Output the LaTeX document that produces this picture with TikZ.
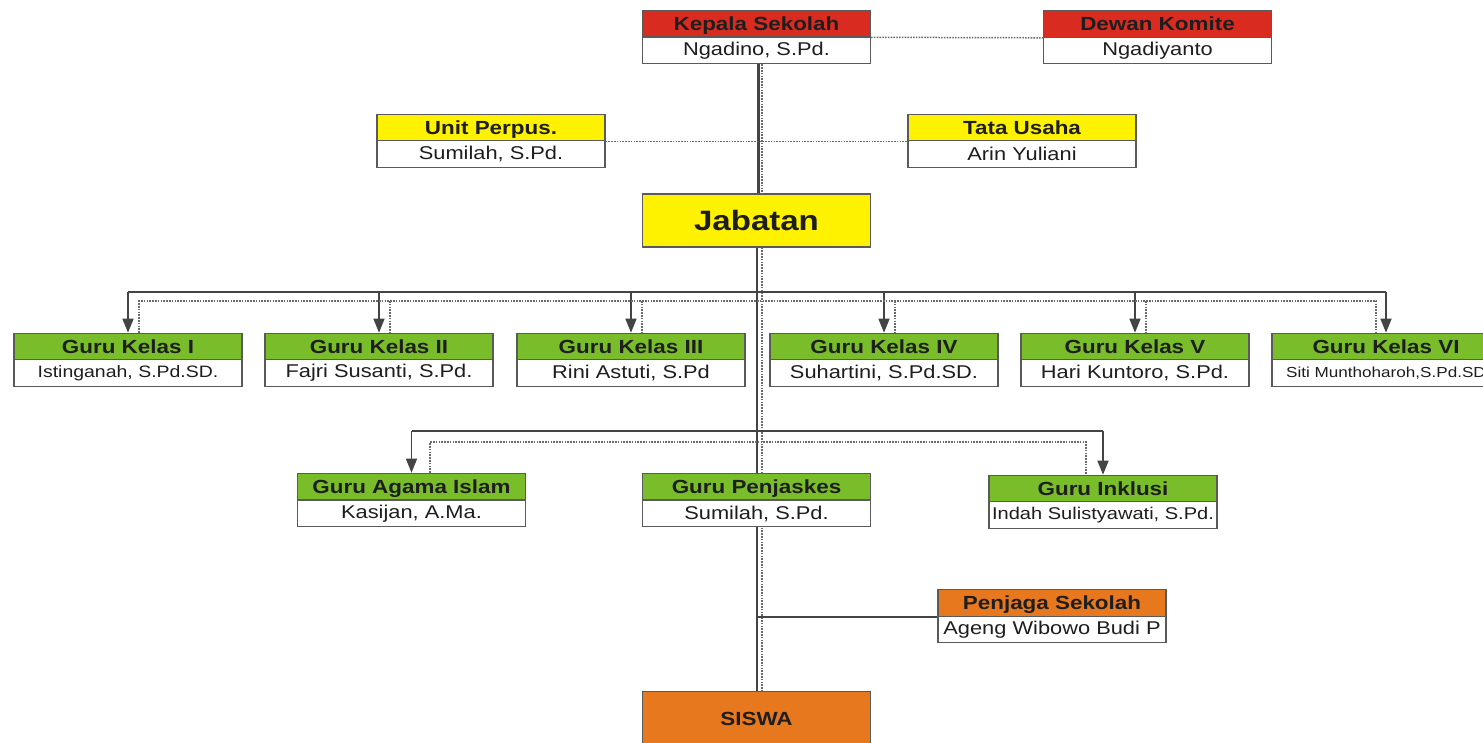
\documentclass[tikz,border=0pt]{standalone}
\usepackage{fontspec}
\setmainfont{Liberation Sans}[FakeStretch=1.18]
\usetikzlibrary{arrows.meta}
\definecolor{bred}{HTML}{D92B20}
\definecolor{byel}{HTML}{FFF200}
\definecolor{bgrn}{HTML}{7ABD2A}
\definecolor{bora}{HTML}{E8781E}
\definecolor{bord}{HTML}{5A5A5A}
\definecolor{lnc}{HTML}{444444}
\definecolor{dtc}{HTML}{6A6A6A}
\definecolor{txc}{HTML}{1E1E1E}
\tikzset{
  hdr/.style={draw=bord, line width=1.1pt, minimum width=228pt, minimum height=26.5pt,
    inner sep=0pt, text height=14pt, text depth=0.5pt, text=txc, font=\bfseries\fontsize{19}{19}\selectfont},
  nm/.style={draw=bord, line width=1.1pt, minimum width=228pt, minimum height=26.5pt,
    inner sep=0pt, fill=white, text=txc, font=\fontsize{18.5}{18.5}\selectfont},
  solidln/.style={draw=lnc, line width=1.5pt},
  thickln/.style={draw=lnc, line width=3pt},
  dotln/.style={draw=dtc, line width=1.5pt, dash pattern=on 1.6pt off 1.2pt},
  arr/.style={solidln, -{Triangle[width=11pt,length=14pt]}},
}
\begin{document}
\begin{tikzpicture}[x=1pt,y=-1pt]
\useasboundingbox (0,0) rectangle (1483,742);
\fill[white] (0,0) rectangle (1483,742);

% helper coordinates (levels)
\coordinate (busA) at (0,292);
\coordinate (busB) at (0,301);
\coordinate (busC) at (0,431);
\coordinate (busD) at (0,442);

% Top nodes
\node[hdr, fill=bred] (ksh) at (756.5,23.5) {Kepala Sekolah};
\node[nm] (ksn) at (756.5,50.5) {Ngadino, S.Pd.};
\node[hdr, fill=bred] (dkh) at (1157.5,24) {Dewan Komite};
\node[nm] (dkn) at (1157.5,50.5) {Ngadiyanto};
\node[hdr, fill=byel] (uph) at (491,127.5) {Unit Perpus.};
\node[nm] (upn) at (491,154) {Sumilah, S.Pd.};
\node[hdr, fill=byel] (tuh) at (1022,127.5) {Tata Usaha};
\node[nm] (tun) at (1022,154) {Arin Yuliani};
\node[draw=bord, line width=1.1pt, fill=byel, minimum width=228pt, minimum height=53pt,
  inner sep=0pt, text=txc, font=\bfseries\fontsize{28}{28}\selectfont] (jab) at (756.5,220.5) {Jabatan};

% Guru kelas
\node[hdr, fill=bgrn] (g1h) at (128,346.5) {Guru Kelas I};
\node[nm, font=\fontsize{16.5}{16.5}\selectfont] (g1n) at (128,373) {Istinganah, S.Pd.SD.};
\node[hdr, fill=bgrn] (g2h) at (379,346.5) {Guru Kelas II};
\node[nm] (g2n) at (379,373) {Fajri Susanti, S.Pd.};
\node[hdr, fill=bgrn] (g3h) at (631,346.5) {Guru Kelas III};
\node[nm] (g3n) at (631,373) {Rini Astuti, S.Pd};
\node[hdr, fill=bgrn] (g4h) at (884,346.5) {Guru Kelas IV};
\node[nm] (g4n) at (884,373) {Suhartini, S.Pd.SD.};
\node[hdr, fill=bgrn] (g5h) at (1135,346.5) {Guru Kelas V};
\node[nm] (g5n) at (1135,373) {Hari Kuntoro, S.Pd.};
\node[hdr, fill=bgrn] (g6h) at (1386,346.5) {Guru Kelas VI};
\node[nm, font=\fontsize{14.5}{14.5}\selectfont] (g6n) at (1386,373) {Siti Munthoharoh,S.Pd.SD};

% main vertical below Jabatan (behind Penjaskes)
\coordinate (siswaTop) at (756.5,691);
\draw[solidln] ([xshift=0.5pt]jab.south) -- ([xshift=0.5pt]siswaTop);
\draw[dotln] ([xshift=5.5pt]jab.south) -- ([xshift=5.5pt]siswaTop);

% Second level
\node[hdr, fill=bgrn] (gah) at (411.5,486.5) {Guru Agama Islam};
\node[nm] (gan) at (411.5,513.5) {Kasijan, A.Ma.};
\node[hdr, fill=bgrn] (gph) at (756.5,486.5) {Guru Penjaskes};
\node[nm] (gpn) at (756.5,513.5) {Sumilah, S.Pd.};
\node[hdr, fill=bgrn] (gih) at (1103,488.5) {Guru Inklusi};
\node[nm, font=\fontsize{17}{17}\selectfont] (gin) at (1103,515) {Indah Sulistyawati, S.Pd.};

% Penjaga & Siswa
\node[hdr, fill=bora] (psh) at (1052,603) {Penjaga Sekolah};
\node[nm] (psn) at (1052,629.5) {Ageng Wibowo Budi P};
\node[draw=bord, line width=1.1pt, fill=bora, minimum width=228pt, minimum height=60pt,
  inner sep=0pt, text=txc, font=\bfseries\fontsize{19}{19}\selectfont, anchor=north] (siswa) at (siswaTop) {\raisebox{5pt}{SISWA}};

% Kepala -> Jabatan double line
\draw[thickln] ([xshift=1.5pt]ksn.south) -- ([xshift=1.5pt]jab.north);
\draw[dotln] ([xshift=5.5pt]ksn.south) -- ([xshift=5.5pt]jab.north);

% dotted side links
\draw[dotln] (ksh.south east) -- (dkh.south west);
\draw[dotln] (uph.south east) -- (tuh.south west);

% bus to guru kelas
\draw[solidln] (g1h.north |- busA) -- (g6h.north |- busA);
\foreach \g in {g1h,g2h,g3h,g4h,g5h,g6h}
  \draw[arr] (\g.north |- busA) -- (\g.north);
\draw[dotln] ([xshift=11pt]g1h.north) -- ([xshift=11pt]g1h.north |- busB)
  -- ([xshift=-10pt]g6h.north |- busB) -- ([xshift=-10pt]g6h.north);
\foreach \g in {g2h,g3h,g4h,g5h}
  \draw[dotln] ([xshift=11pt]\g.north |- busB) -- ([xshift=11pt]\g.north);

% bus to second level
\draw[solidln] (gah.north |- busC) -- (gih.north |- busC);
\draw[arr] (gah.north |- busC) -- (gah.north);
\draw[arr] (gih.north |- busC) -- (gih.north);
\draw[dotln] ([xshift=18.5pt]gah.north) -- ([xshift=18.5pt]gah.north |- busD)
  -- ([xshift=-17pt]gih.north |- busD) -- ([xshift=-17pt]gih.north);

% Penjaga link
\draw[solidln] (psh.south west -| siswa.north) -- (psh.south west);
\end{tikzpicture}
\end{document}
